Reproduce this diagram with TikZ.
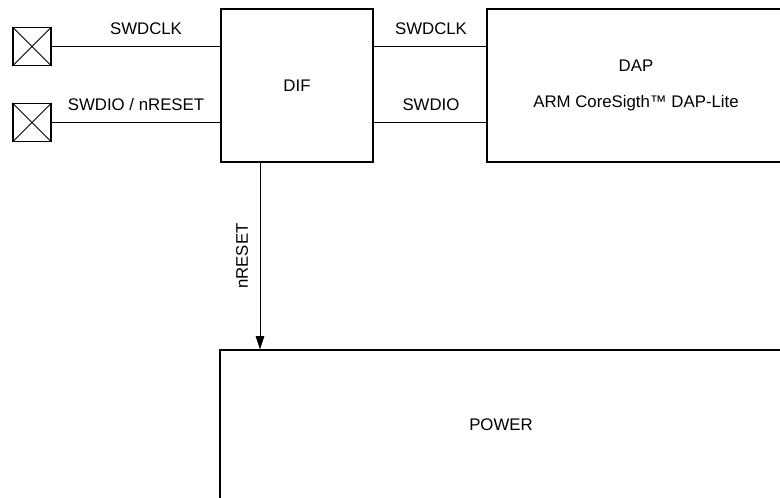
\documentclass[tikz,border=0pt]{standalone}
\usepackage{fontspec}
\setmainfont{Liberation Sans}
\usetikzlibrary{arrows.meta,positioning}

\begin{document}
\begin{tikzpicture}[x=0.75pt,y=-0.75pt,>={Triangle[length=10pt,width=6.5pt]},line join=miter]
  \tikzset{
    block/.style={draw,line width=1pt,inner sep=0pt},
    pad/.style={draw,line width=0.9pt,minimum size=28.5pt,inner sep=0pt},
    wire/.style={line width=0.6pt},
    lbl/.style={font=\fontsize{12.6}{15}\selectfont}
  }
  \clip (0,0) rectangle (780,498);

  % blocks; DAP and POWER run past the right and bottom edges
  \node[block,lbl,minimum width=114pt,minimum height=114.75pt] (dif) at (297,85.5) {DIF};
  \node[block,lbl,minimum width=223.5pt,minimum height=114.75pt,align=center] (dap) at (636,85.5)
    {DAP\\[12pt]ARM CoreSigth™ DAP-Lite};
  \node[block,minimum width=421.5pt,minimum height=112.5pt] (power) at (501,425) {};
  \node[lbl] (powerlbl) at (power.center) {POWER};

  % pads with a cross
  \foreach \name/\y in {padclk/46.5,padio/122.5}{
    \node[pad] (\name) at (32,\y) {};
    \draw[line width=0.6pt] (\name.north west) -- (\name.south east)
      (\name.south west) -- (\name.north east);
  }

  % serial wire lines
  \draw[wire] (padclk.east) -- (padclk.east -| dif.west);
  \draw[wire] (padio.east) -- (padio.east -| dif.west);
  \draw[wire] (padclk.east -| dif.east) -- (padclk.east -| dap.west);
  \draw[wire] (padio.east -| dif.east) -- (padio.east -| dap.west);
  \node[lbl,anchor=base] (clkin) at (146,34.5) {SWDCLK};
  \node[lbl,anchor=base] (ioin) at (136,110.5) {SWDIO / nRESET};
  \node[lbl,anchor=base] (clkout) at (431,34.5) {SWDCLK};
  \node[lbl,anchor=base] (ioout) at (431,110.5) {SWDIO};

  % reset towards the power block
  \coordinate (rst) at (260,0);
  \draw[wire,->] (dif.south -| rst) -- (power.north -| rst);
  \node[lbl,rotate=90] (rstlbl) at (242,256) {nRESET};
\end{tikzpicture}
\end{document}
